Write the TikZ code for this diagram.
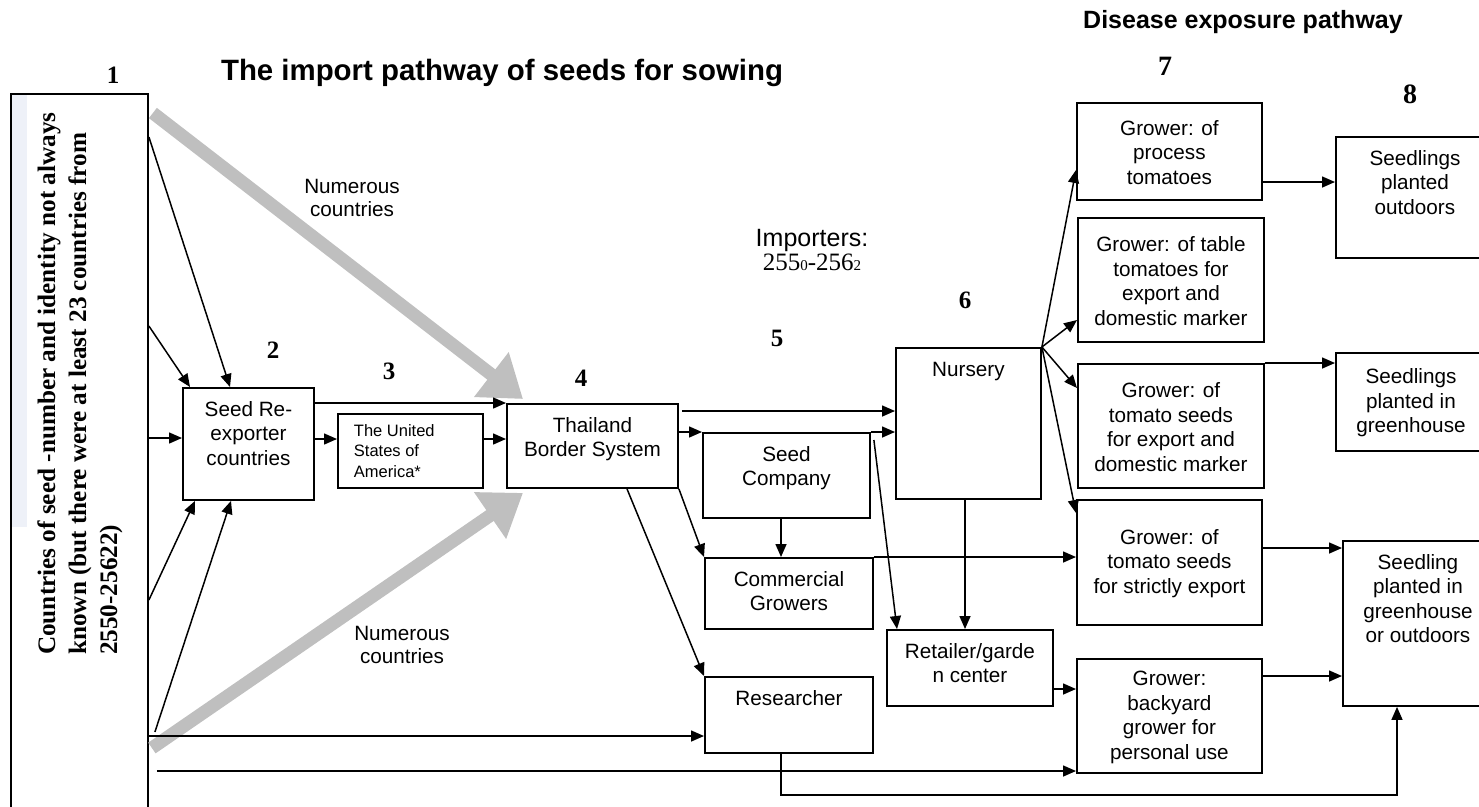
\documentclass[tikz,border=0pt]{standalone}
\usepackage{fontspec}
\setmainfont{Liberation Serif}
\setsansfont{Liberation Sans}
\usepackage{tikz}
\usetikzlibrary{arrows.meta,calc}
\definecolor{ArrowGray}{HTML}{BFBFBF}
\definecolor{BandBlue}{HTML}{EEF1F8}
\newcommand{\boxtxt}[4][t]{\parbox[c][#3pt][#1]{#2pt}{\centering\if t#1\vspace*{11pt}\fi\strut#4\par}}

\begin{document}
\begin{tikzpicture}[x=1pt,y=-1pt,
  box/.style={draw,line width=1.9pt,inner sep=0pt,anchor=north west,font=\sffamily\fontsize{20.7}{24.5}\selectfont},
  arr/.style={line width=1.5pt,-{Triangle[length=13pt,width=11pt]}},
  bigarr/.style={line width=13pt,draw=ArrowGray,-{Triangle[length=40pt,width=54pt]}},
  num/.style={font=\rmfamily\bfseries\fontsize{25}{25}\selectfont},
  note/.style={align=center,font=\sffamily\fontsize{20.7}{22.5}\selectfont}]
    \useasboundingbox (0,0) rectangle (1479,806);
    \clip (0,0) rectangle (1479,806);
    % source countries
    \fill[BandBlue] (12,95) rectangle (27,527);
    \node[box,minimum width=137pt,minimum height=740pt] (src) at (10,93) {};
    \node[rotate=90,anchor=west,align=left,inner sep=0pt,font=\rmfamily\bfseries\fontsize{25.2}{31}\selectfont] (srclbl) at (80,655)
     {Countries of seed -number and identity not always\\known (but there were at least 23 countries from\\2550-25622)};
    \node[font=\sffamily\bfseries\fontsize{29.4}{30}\selectfont] (title) at (502,73) {The import pathway of seeds for sowing};
    \node[font=\sffamily\bfseries\fontsize{25}{26}\selectfont] (dtitle) at (1243,22) {Disease exposure pathway};
    \foreach \n/\x/\y in {1/113/75,2/273/350,3/389/371,4/581/378,5/777/338,6/965/300} {
     \node[num] (n\n) at (\x,\y) {\n};
    }
    \node[num,font=\rmfamily\bfseries\fontsize{28}{28}\selectfont] (n7) at (1165,66) {7};
    \node[num,font=\rmfamily\bfseries\fontsize{28}{28}\selectfont] (n8) at (1410,94) {8};
    % boxes
    \node[box] (reexp) at (182,387) {\boxtxt{131}{112}{Seed Re-\\exporter\\countries}};
    \node[box] (usa) at (337,413) {\parbox[c][74pt][c]{145pt}{\fontsize{16.5}{20.5}\selectfont\leftskip=16pt The United\\States of\\America*\par}};
    \node[box] (border) at (506,403) {\boxtxt{171}{84}{Thailand\\Border System}};
    \node[box] (seedco) at (702,432) {\boxtxt{167}{85}{Seed\\Company}};
    \node[box] (commgrow) at (704,557) {\boxtxt{168}{71}{Commercial\\Growers}};
    \node[box] (nursery) at (895,347) {\boxtxt{145}{151}{Nursery}};
    \node[box] (retail) at (886,629) {\boxtxt{166}{76}{Retailer/garde\\n center}};
    \node[box] (research) at (704,676) {\boxtxt{168}{76}{Researcher}};
    \node[box] (gproc) at (1076,102) {\boxtxt[c]{185}{97}{Grower: of\\process\\tomatoes}};
    \node[box] (gtable) at (1077,217) {\boxtxt[c]{186}{124}{Grower: of table\\tomatoes for\\export and\\domestic marker}};
    \node[box] (gseedexp) at (1077,363) {\boxtxt[c]{186}{124}{Grower: of\\tomato seeds\\for export and\\domestic marker}};
    \node[box] (gstrict) at (1076,499) {\boxtxt[c]{185}{125}{Grower: of\\tomato seeds\\for strictly export}};
    \node[box] (gbackyard) at (1076,658) {\boxtxt[c]{185}{114}{Grower:\\backyard\\grower for\\personal use}};
    \node[box] (sout) at (1335,136) {\boxtxt{158}{121}{Seedlings\\planted\\outdoors}};
    \node[box] (sgreen) at (1335,352) {\boxtxt[c]{150}{98}{Seedlings\\planted in\\greenhouse}};
    \node[box] (sboth) at (1342,540) {\boxtxt{150}{165}{Seedling\\planted in\\greenhouse\\or outdoors}};
    \node[note] (numup) at (352,198) {Numerous\\countries};
    \node[note] (numlow) at (402,645) {Numerous\\countries};
    \node[align=center,font=\fontsize{25}{24}\selectfont] (imp) at (812,250)
     {{\sffamily Importers:}\\255{\fontsize{15}{15}\selectfont 0}-256{\fontsize{15}{15}\selectfont 2}};
    % arrows
    \draw[bigarr] (src.east |- 0,113) ++(4,0) -- ([xshift=17pt,yshift=4pt]border.north west);
    \draw[bigarr] (src.east |- 0,748) ++(3,0) -- ([xshift=17pt,yshift=-4pt]border.south west);
    \foreach \y/\x/\s in {137/230/north,326/190/north,600/195/south} {
     \draw[arr] (src.east |- 0,\y) -- (reexp.\s -| \x,0);
    }
    \draw[arr] (src.east |- 0,438) -- (reexp.west |- 0,438);
    \draw[arr] (src.east |- 0,732) ++(6,0) -- (reexp.south -| 231,0);
    \draw[arr] (src.east |- 0,736) -- (research.west |- 0,736);
    \draw[arr] (src.east |- 0,771) ++(8,0) -- (gbackyard.west |- 0,771);
    \draw[arr] (reexp.east |- border.north) -- (border.north west);
    \draw[arr] (reexp.east |- 0,439) -- (usa.west |- 0,439);
    \draw[arr] (usa.east |- 0,439) -- (border.west |- 0,439);
    \draw[arr] (border.east |- 0,411) ++(3,0) -- (nursery.west |- 0,411);
    \draw[arr] (border.east |- seedco.north) -- (seedco.north west);
    \draw[arr] (seedco.north east) -- (nursery.west |- seedco.north);
    \draw[arr] (border.south east) -- (commgrow.north west);
    \draw[arr] (border.south -| 627,0) -- (research.north west);
    \draw[arr] (seedco.south -| 781,0) -- (commgrow.north -| 781,0);
    \draw[arr] (commgrow.north east) -- (gstrict.west |- commgrow.north);
    \draw[arr] (seedco.east |- 0,440) ++(3,0) -- (retail.north -| 897,0);
    \draw[arr] (nursery.south -| 965,0) -- (retail.north -| 965,0);
    \draw[arr] (retail.east |- 0,689) -- (gbackyard.west |- 0,689);
    \foreach \t/\y in {gproc/170,gtable/320,gseedexp/388,gstrict/513} {
     \draw[arr] (nursery.north east) -- (\t.west |- 0,\y);
    }
    \draw[arr] (gproc.east |- 0,182) -- (sout.west |- 0,182);
    \draw[arr] (gseedexp.north east) -- (sgreen.west |- gseedexp.north);
    \draw[arr] (gstrict.east |- 0,548) -- (sboth.west |- 0,548);
    \draw[arr] (gbackyard.east |- 0,676) -- (sboth.west |- 0,676);
    \draw[arr] (research.south -| 781,0) |- (1397,795) -- (sboth.south -| 1397,0);
\end{tikzpicture}
\end{document}
